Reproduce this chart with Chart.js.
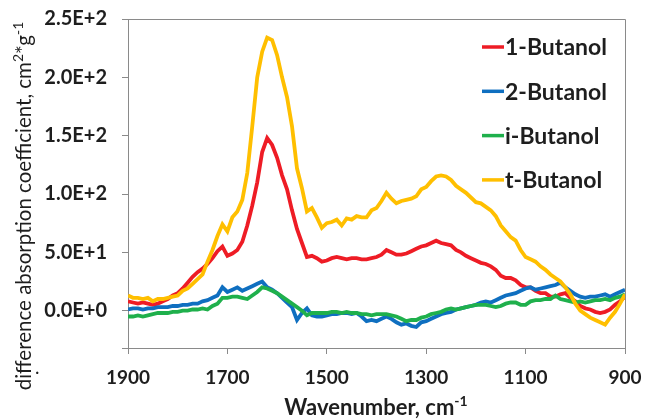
<!DOCTYPE html>
<html>
<head>
<meta charset="utf-8">
<script src="https://cdn.jsdelivr.net/npm/chart.js@4.4.1/dist/chart.umd.min.js"></script>
<style>
  html, body { margin: 0; padding: 0; background: #fff; }
  canvas { display: block; }
</style>
</head>
<body>
<canvas id="myChart" width="646" height="420"></canvas>
<script>
// Wavenumber grid, cm-1 (high to low, as the spectrum is plotted)
const wavenumbers = [
  1900, 1890, 1880, 1870, 1860, 1850, 1840, 1830, 1820, 1810,
  1800, 1790, 1780, 1770, 1760, 1750, 1740, 1730, 1720, 1710,
  1700, 1690, 1680, 1670, 1660, 1650, 1640, 1630, 1620, 1610,
  1600, 1590, 1580, 1570, 1560, 1550, 1540, 1530, 1520, 1510,
  1500, 1490, 1480, 1470, 1460, 1450, 1440, 1430, 1420, 1410,
  1400, 1390, 1380, 1370, 1360, 1350, 1340, 1330, 1320, 1310,
  1300, 1290, 1280, 1270, 1260, 1250, 1240, 1230, 1220, 1210,
  1200, 1190, 1180, 1170, 1160, 1150, 1140, 1130, 1120, 1110,
  1100, 1090, 1080, 1070, 1060, 1050, 1040, 1030, 1020, 1010,
  1000, 990, 980, 970, 960, 950, 940, 930, 920, 910, 900
];

// Difference absorption coefficient, cm2*g-1
const butanol1 = [
  8, 7, 6, 7, 6, 5, 6, 8, 10, 13,
  15, 19, 24, 29, 33, 36, 40, 45, 51, 55,
  47, 49, 52, 59, 73, 90, 110, 136, 148, 142,
  131, 116, 104, 86, 70, 58, 46, 47, 45, 42,
  43, 45, 46, 45, 44, 45, 45, 44, 44, 45,
  46, 48, 52, 50, 48, 48, 49, 51, 53, 55,
  56, 58, 60, 58, 57, 56, 52, 50, 47, 45,
  43, 41, 40, 38, 35, 30, 28, 28, 26, 22,
  20, 20, 17, 15, 15, 12, 12, 14, 15, 11,
  8, 4, 2, 1, -1, -2, -1, 1, 5, 8, 12
];
const butanol2 = [
  1, 2, 2, 1, 2, 2, 3, 3, 3, 4,
  4, 5, 5, 6, 6, 8, 9, 11, 13, 20,
  16, 18, 20, 17, 19, 21, 23, 25, 20, 18,
  15, 11, 7, 3, -8, -2, 2, -4, -5, -5,
  -4, -3, -3, -2, -2, -3, -2, -5, -9, -8,
  -9, -7, -5, -7, -10, -12, -11, -13, -14, -10,
  -9, -7, -5, -3, -2, -1, 1, 2, 3, 4,
  5, 7, 8, 7, 9, 11, 13, 14, 15, 17,
  19, 20, 18, 19, 20, 21, 22, 24, 20, 17,
  14, 12, 11, 12, 12, 13, 14, 12, 14, 16, 18
];
const butanolI = [
  -5, -5, -4, -5, -4, -3, -2, -2, -2, -1,
  -1, 0, 0, 1, 1, 2, 1, 4, 6, 11,
  11, 12, 12, 11, 10, 13, 16, 20, 19, 17,
  15, 12, 9, 6, 3, 0, -4, -2, -2, -2,
  -2, -1, -1, -2, -1, -2, -2, -3, -3, -4,
  -3, -3, -3, -4, -5, -7, -9, -8, -8, -6,
  -5, -3, -2, -1, 1, 2, 1, 2, 3, 4,
  5, 5, 5, 4, 3, 4, 6, 7, 7, 5,
  5, 8, 9, 9, 10, 10, 13, 10, 9, 8,
  7, 8, 7, 8, 9, 9, 10, 9, 11, 12, 14
];
const butanolT = [
  13, 11, 11, 10, 11, 8, 10, 10, 11, 12,
  13, 17, 19, 23, 27, 31, 42, 52, 64, 74,
  68, 80, 85, 95, 118, 158, 200, 222, 234, 232,
  219, 200, 183, 158, 122, 105, 85, 88, 80, 71,
  75, 76, 78, 73, 79, 78, 81, 80, 80, 86,
  88, 94, 101, 96, 92, 94, 95, 96, 98, 104,
  106, 111, 115, 116, 115, 112, 107, 104, 101, 97,
  93, 92, 89, 86, 81, 73, 68, 63, 60, 52,
  46, 44, 42, 38, 35, 31, 28, 25, 20, 14,
  6, 0, -3, -6, -8, -10, -12, -6, -1, 6, 14
];

const seriesNames = ['1-Butanol', '2-Butanol', 'i-Butanol', 't-Butanol'];
const seriesColors = ['#ee1c25', '#0f6fc0', '#1fb04c', '#ffbf00'];

// Axis ticks
const xTickValues = [1900, 1700, 1500, 1300, 1100, 900];
const xTickLabels = ['1900', '1700', '1500', '1300', '1100', '900'];
const yTickValues = [0, 50, 100, 150, 200, 250];
const yTickLabels = ['0.0E+0', '5.0E+1', '1.0E+2', '1.5E+2', '2.0E+2', '2.5E+2'];
const yMin = -32;
const yMax = 250;

const axisGray = '#8a8a8a';
const textColor = '#1e1e1e';

function toPoints(values) {
  return values.map((v, i) => ({ x: wavenumbers[i], y: v }));
}

// Gray box round the plot area (left and bottom come from the axes)
const frame = {
  id: 'frame',
  beforeDatasetsDraw(chart) {
    const { ctx, chartArea: a } = chart;
    ctx.save();
    ctx.strokeStyle = axisGray;
    ctx.lineWidth = 1;
    ctx.beginPath();
    ctx.moveTo(a.left, a.top + 0.5);
    ctx.lineTo(a.right + 0.5, a.top + 0.5);
    ctx.lineTo(a.right + 0.5, a.bottom);
    ctx.stroke();
    ctx.restore();
  }
};

// Series key, inside the plot at the top right
const seriesKey = {
  id: 'seriesKey',
  afterDraw(chart) {
    const ctx = chart.ctx;
    ctx.save();
    ctx.font = 'bold 23px Lato';
    ctx.textBaseline = 'middle';
    chart.data.datasets.forEach((ds, i) => {
      const y = 47 + i * 44.3;
      ctx.strokeStyle = ds.borderColor;
      ctx.lineWidth = 3.5;
      ctx.beginPath();
      ctx.moveTo(482, y);
      ctx.lineTo(504, y);
      ctx.stroke();
      ctx.fillStyle = textColor;
      ctx.fillText(ds.label, 505, y + 1);
    });
    ctx.restore();
  }
};

// Axis titles with superscripts
function drawWithSup(ctx, parts, startX, y) {
  let x = startX;
  parts.forEach(p => {
    ctx.font = p.font;
    ctx.fillText(p.text, x, y + (p.sup ? -p.raise : 0));
    x += ctx.measureText(p.text).width;
  });
}
function partsWidth(ctx, parts) {
  let w = 0;
  parts.forEach(p => { ctx.font = p.font; w += ctx.measureText(p.text).width; });
  return w;
}
const axisTitles = {
  id: 'axisTitles',
  afterDraw(chart) {
    const ctx = chart.ctx;
    ctx.save();
    ctx.fillStyle = textColor;
    ctx.textBaseline = 'alphabetic';
    ctx.textAlign = 'left';

    const yParts = [
      { text: 'difference absorption coefficient, cm', font: '20.5px Lato' },
      { text: '2', font: '14px Lato', sup: true, raise: 8 },
      { text: '*g', font: '20.5px Lato' },
      { text: '-1', font: '14px Lato', sup: true, raise: 8 }
    ];
    ctx.save();
    ctx.translate(31, 206);
    ctx.rotate(-Math.PI / 2);
    drawWithSup(ctx, yParts, -partsWidth(ctx, yParts) / 2, 0);
    ctx.restore();

    ctx.font = '19px Lato';
    ctx.fillText('.', 35, 374);

    const xParts = [
      { text: 'Wavenumber, cm', font: 'bold 22px Lato' },
      { text: '-1', font: 'bold 14px Lato', sup: true, raise: 9 }
    ];
    drawWithSup(ctx, xParts, 376 - partsWidth(ctx, xParts) / 2, 415);
    ctx.restore();
  }
};

new Chart(document.getElementById('myChart'), {
  type: 'line',
  data: {
    datasets: [butanol1, butanol2, butanolI, butanolT].map((vals, i) => ({
      label: seriesNames[i],
      data: toPoints(vals),
      borderColor: seriesColors[i],
      backgroundColor: seriesColors[i],
      borderWidth: 3.8,
      pointRadius: 0,
      tension: 0,
      fill: false,
      order: 3 - i
    }))
  },
  options: {
    responsive: false,
    animation: false,
    layout: { padding: { top: 19, right: 21, left: 0, bottom: 0 } },
    plugins: {
      legend: { display: false },
      tooltip: { enabled: false }
    },
    scales: {
      x: {
        type: 'linear',
        reverse: true,
        min: 900,
        max: 1900,
        afterBuildTicks: axis => { axis.ticks = xTickValues.map(v => ({ value: v })); },
        afterFit: axis => {
          axis.height = 72;
          axis.paddingLeft = 0;
          axis.paddingRight = 0;
        },
        ticks: {
          autoSkip: false,
          maxRotation: 0,
          padding: 12,
          color: textColor,
          font: { family: 'Lato', size: 19, weight: 'bold' },
          callback: v => xTickLabels[xTickValues.indexOf(v)] ?? ''
        },
        grid: { display: true, drawOnChartArea: false, drawTicks: true, tickLength: 6, color: axisGray },
        border: { display: true, color: axisGray, width: 1 }
      },
      y: {
        type: 'linear',
        min: yMin,
        max: yMax,
        afterBuildTicks: axis => { axis.ticks = [yMin, ...yTickValues].map(v => ({ value: v })); },
        afterFit: axis => {
          axis.width = 128;
          axis.paddingTop = 0;
          axis.paddingBottom = 0;
        },
        ticks: {
          autoSkip: false,
          padding: 15,
          color: textColor,
          font: { family: 'Lato', size: 20, weight: 'bold' },
          callback: v => yTickLabels[yTickValues.indexOf(v)] ?? ''
        },
        grid: { display: true, drawOnChartArea: false, drawTicks: true, tickLength: 6, color: axisGray },
        border: { display: true, color: axisGray, width: 1 }
      }
    }
  },
  plugins: [frame, seriesKey, axisTitles]
});
</script>
</body>
</html>
